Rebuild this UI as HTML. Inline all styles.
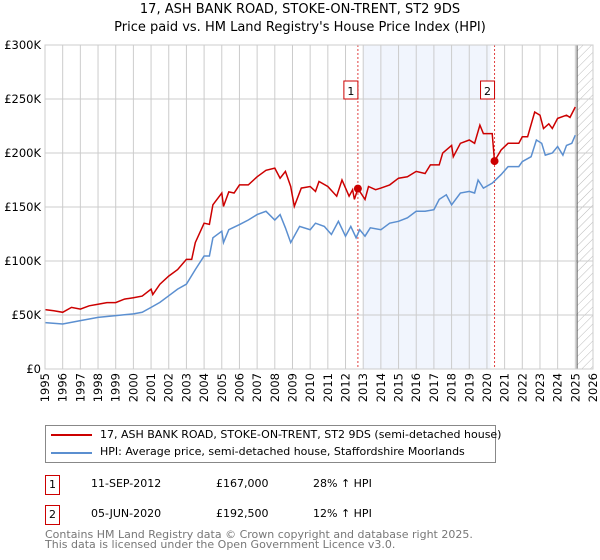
<!DOCTYPE html>
<html><head><meta charset="utf-8"><style>
body{margin:0;background:#fff;font-family:"DejaVu Sans","Liberation Sans",sans-serif;}
#wrap{position:relative;width:600px;height:560px;overflow:hidden}
.t{position:absolute;white-space:nowrap;color:#000}
</style></head><body><div id="wrap">
<div class="t" style="left:0;width:600px;text-align:center;top:2px;font-size:13px">17, ASH BANK ROAD, STOKE-ON-TRENT, ST2 9DS</div>
<div class="t" style="left:0;width:600px;text-align:center;top:20px;font-size:13px">Price paid vs. HM Land Registry's House Price Index (HPI)</div>
<svg id="chart" width="600" height="420" style="position:absolute;left:0;top:0"></svg>
<div style="position:absolute;left:45px;top:425px;width:449px;height:36px;border:1px solid #888;font-size:11px">
<div><div style="position:absolute;left:5px;top:8px;width:41px;height:2px;background:#cc0000"></div><span class="t" style="left:54px;top:2px">17, ASH BANK ROAD, STOKE-ON-TRENT, ST2 9DS (semi-detached house)</span></div>
<div><div style="position:absolute;left:5px;top:26px;width:41px;height:2px;background:#5b8fd0"></div><span class="t" style="left:54px;top:19px">HPI: Average price, semi-detached house, Staffordshire Moorlands</span></div>
</div>
<div style="font-size:11px">
<div class="t" style="left:45px;top:475px;width:13px;height:18px;border:1px solid #cc0000;text-align:center;line-height:18px">1</div>
<span class="t" style="left:91px;top:477px">11-SEP-2012</span><span class="t" style="left:216px;top:477px">£167,000</span><span class="t" style="left:313px;top:477px">28% ↑ HPI</span></div>
<div style="font-size:11px">
<div class="t" style="left:45px;top:505px;width:13px;height:18px;border:1px solid #cc0000;text-align:center;line-height:18px">2</div>
<span class="t" style="left:91px;top:507px">05-JUN-2020</span><span class="t" style="left:216px;top:507px">£192,500</span><span class="t" style="left:313px;top:507px">12% ↑ HPI</span></div>
<div class="t" style="left:45px;top:530px;font-size:11px;color:#777;line-height:10px">Contains HM Land Registry data © Crown copyright and database right 2025.<br>This data is licensed under the Open Government Licence v3.0.</div>
</div>
<script>
const yTicks=[0,50,100,150,200,250,300];
const yLabels=["£0","£50K","£100K","£150K","£200K","£250K","£300K"];
const years=[1995,1996,1997,1998,1999,2000,2001,2002,2003,2004,2005,2006,2007,2008,2009,2010,2011,2012,2013,2014,2015,2016,2017,2018,2019,2020,2021,2022,2023,2024,2025,2026];
const redT=[1995,1995.5,1996,1996.5,1997,1997.5,1998,1998.5,1999,1999.5,2000,2000.5,2001,2001.1,2001.5,2002,2002.5,2003,2003.3,2003.5,2004,2004.3,2004.5,2005,2005.1,2005.4,2005.7,2006,2006.5,2007,2007.5,2008,2008.3,2008.6,2008.9,2009.1,2009.5,2010,2010.3,2010.5,2011,2011.5,2011.8,2012.2,2012.4,2012.5,2012.7,2013.1,2013.3,2013.7,2014,2014.5,2015,2015.5,2016,2016.5,2016.8,2017.3,2017.5,2018,2018.1,2018.5,2019,2019.3,2019.6,2019.8,2020.3,2020.43,2020.8,2021.2,2021.8,2022,2022.3,2022.7,2023,2023.2,2023.5,2023.7,2024,2024.5,2024.7,2025];
const redV=[55,54,52.5,57,55.5,58.5,60,61.5,61.5,64.7,66,67.5,74,69,78.5,86,92,101.5,101.5,117,135,134,152,163,150.6,164,163,170.5,170.5,178,184,186,176.7,183,169,150.6,167.5,169,164.4,173.6,169,160,175,160,166,157,167,157,169,166,167.5,170.5,176.7,178,183,181,189,189,200,207,196.6,209,212,209,225.8,218,218,192.5,202.8,209,209,215,215,238,235,222.7,227,222.7,232,235,233,242.6];
const blueT=[1995,1996,1997,1998,1999,2000,2000.5,2001,2001.5,2002,2002.5,2003,2003.5,2004,2004.3,2004.5,2005,2005.1,2005.4,2006,2006.5,2007,2007.5,2008,2008.3,2008.6,2008.9,2009.4,2010,2010.3,2010.8,2011.2,2011.6,2012,2012.3,2012.6,2012.8,2013.1,2013.4,2014,2014.5,2015,2015.5,2016,2016.5,2017,2017.3,2017.7,2018,2018.5,2019,2019.3,2019.5,2019.8,2020.3,2020.8,2021.2,2021.8,2022,2022.5,2022.8,2023.1,2023.3,2023.7,2024,2024.3,2024.5,2024.8,2025];
const blueV=[43,41.7,44.8,47.8,49.4,51,52.5,57,61.7,67.8,74,78.5,92,104.6,104.6,121.5,127.6,117,129,133.7,138,143,146,138,143,130.7,117,132,129,135,132,124.5,136.8,123,132,121.5,129,123,130.7,129,135,136.8,140,146,146,147.5,157,161.3,152,163,164.4,163,175,167.5,172,180,187.4,187.4,192,196.6,212,209,198,200,206,198,207,209,216.5];
const saleT=[2012.7,2020.43];
const saleV=[167,192.5];
const X0=45,X1=593,Y0=369,Y1=45;
const x=t=>X0+(t-1995)/(2026-1995)*(X1-X0);
const y=v=>Y0-v/300*(Y0-Y1);
const svg=document.getElementById('chart');const NS='http://www.w3.org/2000/svg';
function mk(tag,attrs){const e=document.createElementNS(NS,tag);for(const k in attrs)e.setAttribute(k,attrs[k]);svg.appendChild(e);return e;}
const defs=mk('defs',{});
defs.innerHTML='<pattern id="hatch" width="6" height="6" patternUnits="userSpaceOnUse" patternTransform="rotate(45)"><line x1="0" y1="0" x2="0" y2="6" stroke="#bbb" stroke-width="1"/></pattern>';
let e=mk('rect',{x:x(2013),y:Y1,width:x(2020.2)-x(2013),height:Y0-Y1,fill:'#eef3fc',opacity:0.8});

e=mk('rect',{x:x(2025.1),y:Y1,width:X1-x(2025.1),height:Y0-Y1,fill:'url(#hatch)'});

years.forEach(yr=>{const g=mk('line',{x1:x(yr),x2:x(yr),y1:Y1,y2:Y0,stroke:'#ccc','stroke-width':1});

const t=mk('text',{x:0,y:0,transform:`translate(${x(yr)+4},${Y0+4}) rotate(-90)`,'text-anchor':'end','font-size':11.5,'font-family':'DejaVu Sans,sans-serif'});t.textContent=yr;
});
yTicks.forEach((v,i)=>{const g=mk('line',{x1:X0,x2:X1,y1:y(v),y2:y(v),stroke:'#ccc','stroke-width':1});

const t=mk('text',{x:X0-4,y:y(v)+4,'text-anchor':'end','font-size':11.5,'font-family':'DejaVu Sans,sans-serif'});t.textContent=yLabels[i];
});
e=mk('line',{x1:x(2025.1),x2:x(2025.1),y1:Y1,y2:Y0,stroke:'#555','stroke-width':1});

saleT.forEach((t,i)=>{const l=mk('line',{x1:x(t),x2:x(t),y1:Y1,y2:Y0,stroke:'#e04040','stroke-width':1,'stroke-dasharray':'2,2'});
});
const pts=(T,V)=>T.map((t,i)=>x(t).toFixed(1)+','+y(V[i]).toFixed(1)).join(' ');
e=mk('polyline',{points:pts(blueT,blueV),fill:'none',stroke:'#5b8fd0','stroke-width':1.5});

e=mk('polyline',{points:pts(redT,redV),fill:'none',stroke:'#cc0000','stroke-width':1.5});

saleT.forEach((t,i)=>{const c=mk('circle',{cx:x(t),cy:y(saleV[i]),r:4,fill:'#cc0000'});

const r=mk('rect',{x:x(t)-14,y:81,width:14,height:18,fill:'#fff',stroke:'#cc0000'});

const tx=mk('text',{x:x(t)-7,y:95,'text-anchor':'middle','font-size':11,'font-family':'DejaVu Sans,sans-serif'});tx.textContent=String(i+1);
});
e=mk('rect',{x:X0,y:Y1,width:X1-X0,height:Y0-Y1,fill:'none',stroke:'#ccc'});

</script></body></html>
